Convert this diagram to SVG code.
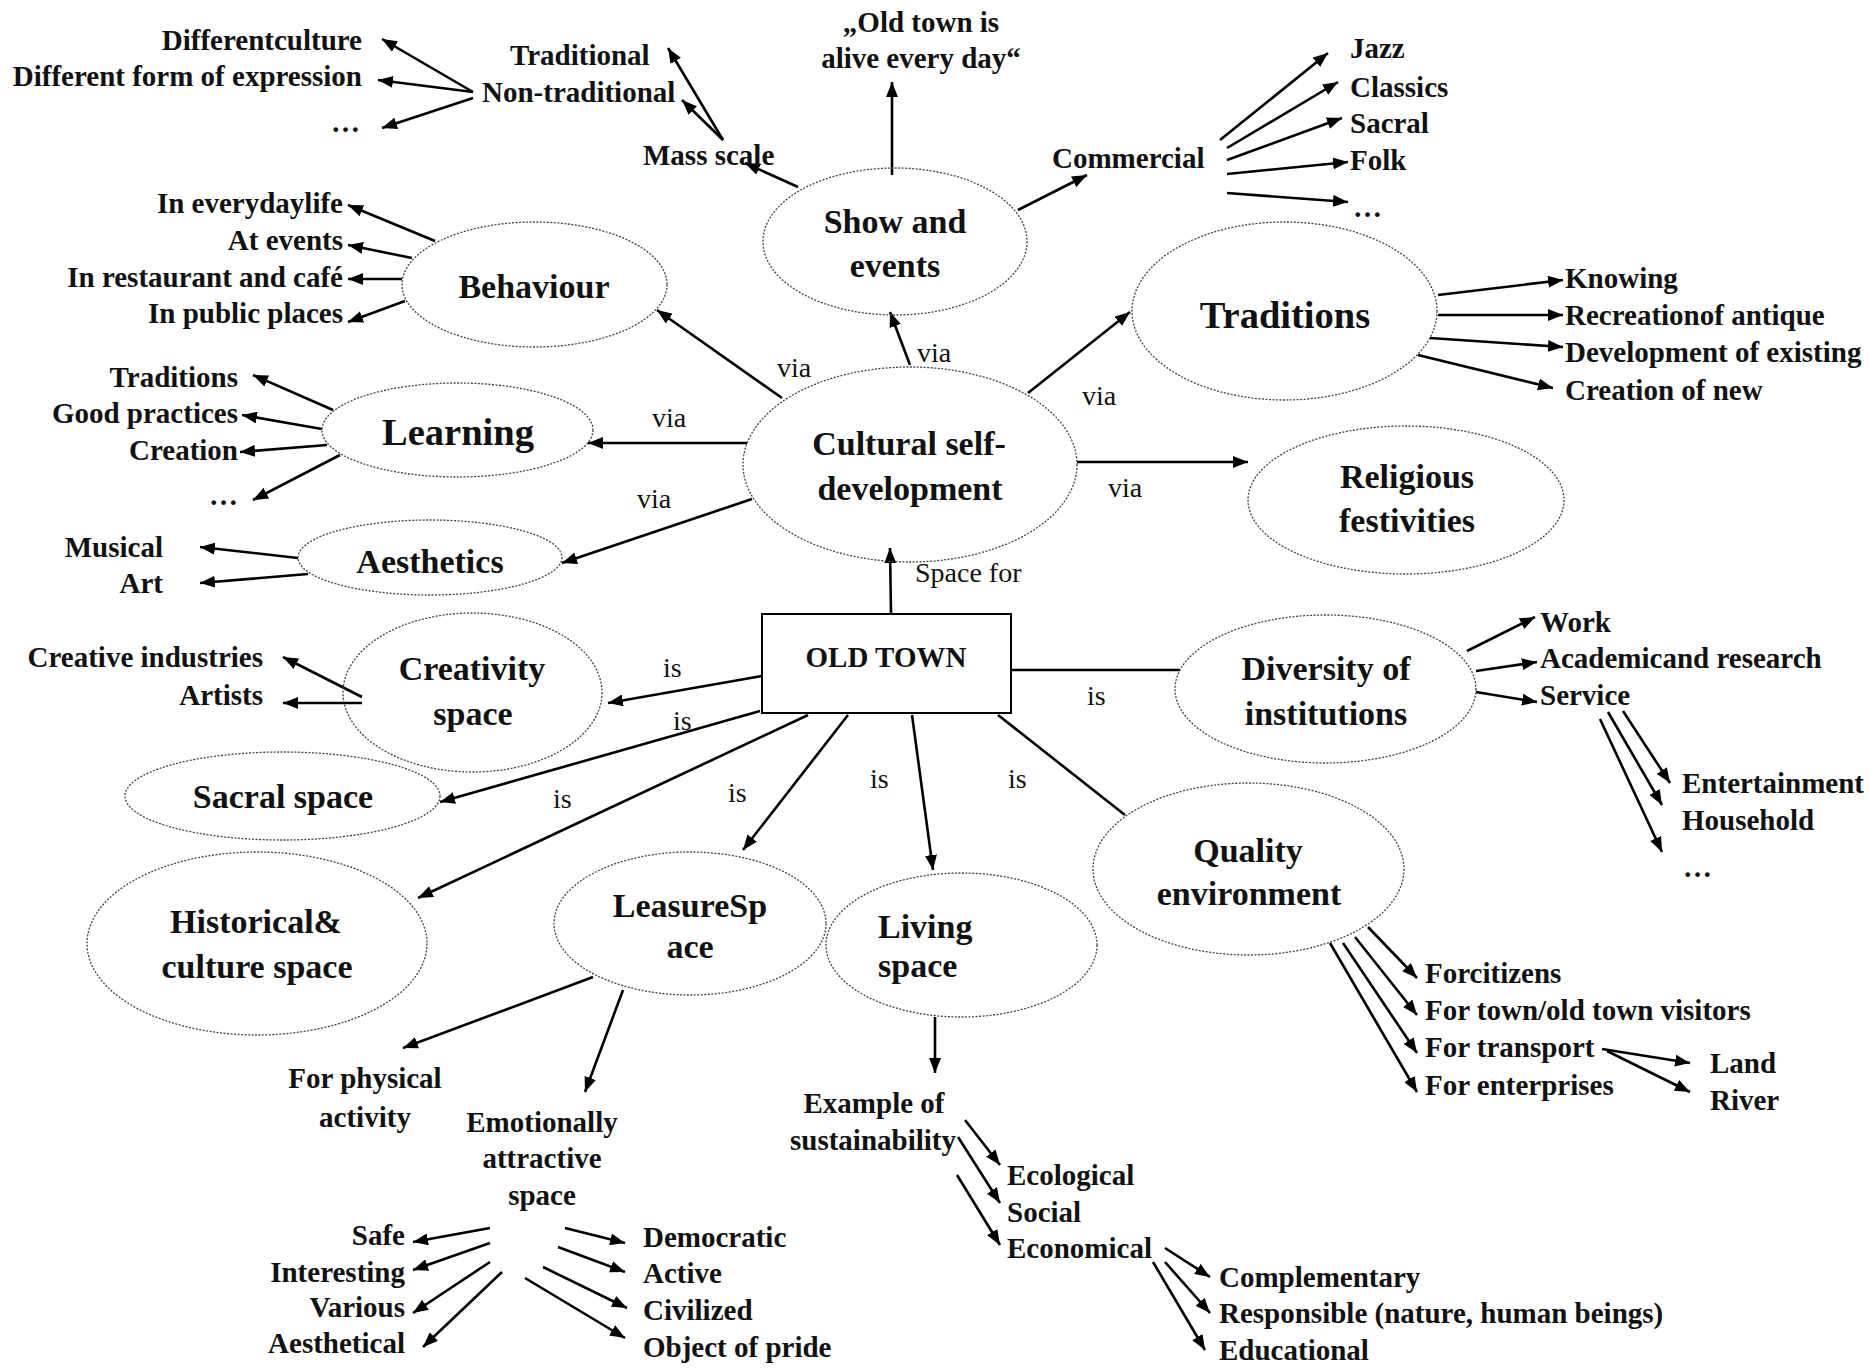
<svg xmlns="http://www.w3.org/2000/svg" width="1870" height="1369" viewBox="0 0 1870 1369">
<style>
text{font-family:"Liberation Serif","Times New Roman",serif;fill:#111}
.t{font-weight:bold;font-size:29px}
.b{font-weight:bold;font-size:34px;text-anchor:middle}
.xb{font-weight:bold;font-size:38.5px;text-anchor:middle}
.l{font-size:28px}
.m{text-anchor:middle}
.r{text-anchor:end}
.e{fill:none;stroke:#444;stroke-width:1.3;stroke-dasharray:2 1.5}
#connectors line{stroke:#000;stroke-width:2.6;fill:none}
#connectors line.a{marker-end:url(#ah)}
</style>
<defs>
<marker id="ah" markerUnits="userSpaceOnUse" markerWidth="16" markerHeight="12" refX="15" refY="6" orient="auto">
<path d="M0,0 L15,6 L0,12 z" fill="#000"/>
</marker>
</defs>
<rect width="1870" height="1369" fill="#fff"/>

<g id="connectors">
<line class="a" x1="798" y1="187" x2="745" y2="163"/>
<line class="a" x1="723" y1="140" x2="668" y2="48"/>
<line class="a" x1="723" y1="140" x2="682" y2="100"/>
<line class="a" x1="473" y1="92" x2="382" y2="39"/>
<line class="a" x1="473" y1="92" x2="378" y2="80"/>
<line class="a" x1="473" y1="98" x2="382" y2="128"/>
<line class="a" x1="892" y1="175" x2="892" y2="82"/>
<line class="a" x1="1018" y1="210" x2="1087" y2="175"/>
<line class="a" x1="1220" y1="140" x2="1328" y2="53"/>
<line class="a" x1="1227" y1="148" x2="1338" y2="82"/>
<line class="a" x1="1227" y1="160" x2="1342" y2="118"/>
<line class="a" x1="1227" y1="174" x2="1348" y2="162"/>
<line class="a" x1="1227" y1="193" x2="1348" y2="202"/>
<line class="a" x1="782" y1="398" x2="657" y2="310"/>
<line class="a" x1="910" y1="365" x2="890" y2="312"/>
<line class="a" x1="1028" y1="393" x2="1130" y2="312"/>
<line class="a" x1="747" y1="443" x2="588" y2="443"/>
<line class="a" x1="752" y1="499" x2="562" y2="563"/>
<line class="a" x1="1077" y1="462" x2="1248" y2="462"/>
<line class="a" x1="891" y1="614" x2="890" y2="548"/>
<line class="a" x1="435" y1="241" x2="348" y2="205"/>
<line class="a" x1="412" y1="258" x2="348" y2="245"/>
<line class="a" x1="402" y1="279" x2="348" y2="279"/>
<line class="a" x1="405" y1="301" x2="348" y2="322"/>
<line class="a" x1="333" y1="410" x2="253" y2="375"/>
<line class="a" x1="322" y1="429" x2="242" y2="415"/>
<line class="a" x1="327" y1="445" x2="240" y2="452"/>
<line class="a" x1="340" y1="455" x2="253" y2="500"/>
<line class="a" x1="298" y1="558" x2="200" y2="547"/>
<line class="a" x1="308" y1="574" x2="200" y2="583"/>
<line class="a" x1="1438" y1="295" x2="1563" y2="280"/>
<line class="a" x1="1438" y1="315" x2="1563" y2="315"/>
<line class="a" x1="1430" y1="338" x2="1563" y2="347"/>
<line class="a" x1="1418" y1="355" x2="1553" y2="388"/>
<line class="a" x1="762" y1="676" x2="608" y2="703"/>
<line class="a" x1="362" y1="697" x2="283" y2="657"/>
<line class="a" x1="362" y1="703" x2="283" y2="703"/>
<line class="a" x1="760" y1="711" x2="440" y2="802"/>
<line class="a" x1="808" y1="715" x2="418" y2="898"/>
<line class="a" x1="848" y1="715" x2="743" y2="850"/>
<line class="a" x1="912" y1="715" x2="933" y2="870"/>
<line x1="998" y1="715" x2="1125" y2="815"/>
<line x1="1011" y1="670" x2="1180" y2="670"/>
<line class="a" x1="1467" y1="651" x2="1535" y2="617"/>
<line class="a" x1="1476" y1="671" x2="1537" y2="662"/>
<line class="a" x1="1476" y1="692" x2="1537" y2="702"/>
<line class="a" x1="1623" y1="711" x2="1670" y2="783"/>
<line class="a" x1="1608" y1="712" x2="1662" y2="805"/>
<line class="a" x1="1600" y1="719" x2="1662" y2="852"/>
<line class="a" x1="1368" y1="927" x2="1417" y2="978"/>
<line class="a" x1="1355" y1="937" x2="1417" y2="1015"/>
<line class="a" x1="1343" y1="943" x2="1417" y2="1053"/>
<line class="a" x1="1330" y1="943" x2="1417" y2="1092"/>
<line class="a" x1="1602" y1="1049" x2="1690" y2="1063"/>
<line class="a" x1="1607" y1="1051" x2="1690" y2="1092"/>
<line class="a" x1="593" y1="977" x2="403" y2="1048"/>
<line class="a" x1="623" y1="990" x2="585" y2="1092"/>
<line class="a" x1="935" y1="1017" x2="935" y2="1073"/>
<line class="a" x1="965" y1="1120" x2="1000" y2="1165"/>
<line class="a" x1="958" y1="1137" x2="1000" y2="1203"/>
<line class="a" x1="957" y1="1175" x2="1000" y2="1245"/>
<line class="a" x1="1165" y1="1248" x2="1210" y2="1277"/>
<line class="a" x1="1165" y1="1262" x2="1210" y2="1313"/>
<line class="a" x1="1153" y1="1262" x2="1205" y2="1350"/>
<line class="a" x1="490" y1="1228" x2="413" y2="1242"/>
<line class="a" x1="490" y1="1243" x2="413" y2="1270"/>
<line class="a" x1="490" y1="1262" x2="413" y2="1313"/>
<line class="a" x1="502" y1="1272" x2="423" y2="1347"/>
<line class="a" x1="565" y1="1228" x2="625" y2="1243"/>
<line class="a" x1="558" y1="1247" x2="625" y2="1272"/>
<line class="a" x1="543" y1="1267" x2="627" y2="1308"/>
<line class="a" x1="525" y1="1278" x2="625" y2="1338"/>
<text class="l" x="777" y="377">via</text>
<text class="l" x="917" y="362">via</text>
<text class="l" x="652" y="427">via</text>
<text class="l" x="1082" y="405">via</text>
<text class="l" x="637" y="508">via</text>
<text class="l" x="1108" y="497">via</text>
<text class="l" x="915" y="582">Space for</text>
<text class="l" x="663" y="677">is</text>
<text class="l" x="673" y="730">is</text>
<text class="l" x="553" y="808">is</text>
<text class="l" x="728" y="802">is</text>
<text class="l" x="870" y="788">is</text>
<text class="l" x="1008" y="788">is</text>
<text class="l" x="1087" y="705">is</text>
</g>

<g id="old-town"><rect x="762" y="614" width="249" height="99" fill="#fff" stroke="#000" stroke-width="2"/><text class="t m" x="886" y="667">OLD TOWN</text></g>
<g id="cultural"><ellipse class="e" cx="910" cy="464.5" rx="167" ry="97.5"/><text class="b" x="909" y="455">Cultural self-</text><text class="b" x="910" y="500">development</text></g>
<g id="show"><ellipse class="e" cx="895" cy="241.5" rx="132" ry="73.5"/><text class="b" x="895" y="233">Show and</text><text class="b" x="895" y="277">events</text></g>
<g id="behaviour"><ellipse class="e" cx="534.5" cy="284.5" rx="132.5" ry="62.5"/><text class="b" x="534" y="298">Behaviour</text></g>
<g id="learning"><ellipse class="e" cx="457.5" cy="430" rx="135.5" ry="47"/><text class="xb" x="458" y="445">Learning</text></g>
<g id="traditions"><ellipse class="e" cx="1284.5" cy="311" rx="152.5" ry="89"/><text class="xb" x="1285" y="328">Traditions</text></g>
<g id="religious"><ellipse class="e" cx="1406" cy="500" rx="158" ry="74"/><text class="b" x="1407" y="488">Religious</text><text class="b" x="1407" y="532">festivities</text></g>
<g id="aesthetics"><ellipse class="e" cx="430" cy="557.5" rx="132" ry="37.5"/><text class="b" x="430" y="573">Aesthetics</text></g>
<g id="creativity"><ellipse class="e" cx="472.5" cy="692.5" rx="129.5" ry="79.5"/><text class="b" x="472" y="680">Creativity</text><text class="b" x="473" y="725">space</text></g>
<g id="sacral"><ellipse class="e" cx="282.5" cy="796" rx="157.5" ry="44"/><text class="b" x="283" y="808">Sacral space</text></g>
<g id="historical"><ellipse class="e" cx="257" cy="943.5" rx="170" ry="91.5"/><text class="b" x="256" y="933">Historical&amp;</text><text class="b" x="257" y="978">culture space</text></g>
<g id="leasure"><ellipse class="e" cx="690" cy="923.5" rx="136" ry="71.5"/><text class="b" x="690" y="917">LeasureSp</text><text class="b" x="690" y="958">ace</text></g>
<g id="living"><ellipse class="e" cx="961.5" cy="945" rx="135.5" ry="72"/><text class="b" x="878" y="938" style="text-anchor:start">Living</text><text class="b" x="878" y="977" style="text-anchor:start">space</text></g>
<g id="quality"><ellipse class="e" cx="1248.5" cy="869" rx="155.5" ry="86"/><text class="b" x="1248" y="862">Quality</text><text class="b" x="1249" y="905">environment</text></g>
<g id="diversity"><ellipse class="e" cx="1325.5" cy="689" rx="150.5" ry="74"/><text class="b" x="1326" y="680">Diversity of</text><text class="b" x="1326" y="725">institutions</text></g>

<g id="expression-list"><text class="t r" x="362" y="50">Differentculture</text><text class="t r" x="362" y="86">Different form of expression</text><text class="t r" x="360" y="132">…</text></g>
<g id="mass-scale"><text class="t" x="510" y="65">Traditional</text><text class="t" x="482" y="102">Non-traditional</text><text class="t" x="643" y="165">Mass scale</text></g>
<g id="old-town-alive"><text class="t m" x="921" y="32">„Old town is</text><text class="t m" x="921" y="68">alive every day“</text></g>
<g id="commercial"><text class="t" x="1052" y="168">Commercial</text><text class="t" x="1350" y="58">Jazz</text><text class="t" x="1350" y="97">Classics</text><text class="t" x="1350" y="133">Sacral</text><text class="t" x="1350" y="170">Folk</text><text class="t" x="1353" y="217">…</text></g>
<g id="traditions-list"><text class="t" x="1565" y="288">Knowing</text><text class="t" x="1565" y="325">Recreationof antique</text><text class="t" x="1565" y="362">Development of existing</text><text class="t" x="1565" y="400">Creation of new</text></g>
<g id="behaviour-list"><text class="t r" x="343" y="213">In everydaylife</text><text class="t r" x="343" y="250">At events</text><text class="t r" x="343" y="287">In restaurant and café</text><text class="t r" x="343" y="323">In public places</text></g>
<g id="learning-list"><text class="t r" x="238" y="387">Traditions</text><text class="t r" x="238" y="423">Good practices</text><text class="t r" x="238" y="460">Creation</text><text class="t r" x="238" y="505">…</text></g>
<g id="aesthetics-list"><text class="t r" x="163" y="557">Musical</text><text class="t r" x="163" y="593">Art</text></g>
<g id="creativity-list"><text class="t r" x="263" y="667">Creative industries</text><text class="t r" x="263" y="705">Artists</text></g>
<g id="institutions-list"><text class="t" x="1540" y="632">Work</text><text class="t" x="1540" y="668">Academicand research</text><text class="t" x="1540" y="705">Service</text><text class="t" x="1682" y="793">Entertainment</text><text class="t" x="1682" y="830">Household</text><text class="t" x="1683" y="877">…</text></g>
<g id="quality-list"><text class="t" x="1425" y="983">Forcitizens</text><text class="t" x="1425" y="1020">For town/old town visitors</text><text class="t" x="1425" y="1057">For transport</text><text class="t" x="1425" y="1095">For enterprises</text><text class="t" x="1710" y="1073">Land</text><text class="t" x="1710" y="1110">River</text></g>
<g id="physical"><text class="t m" x="365" y="1088">For physical</text><text class="t m" x="365" y="1127">activity</text></g>
<g id="emotional"><text class="t m" x="542" y="1132">Emotionally</text><text class="t m" x="542" y="1168">attractive</text><text class="t m" x="542" y="1205">space</text></g>
<g id="emotional-left"><text class="t r" x="405" y="1245">Safe</text><text class="t r" x="405" y="1282">Interesting</text><text class="t r" x="405" y="1317">Various</text><text class="t r" x="405" y="1353">Aesthetical</text></g>
<g id="emotional-right"><text class="t" x="643" y="1247">Democratic</text><text class="t" x="643" y="1283">Active</text><text class="t" x="643" y="1320">Civilized</text><text class="t" x="643" y="1357">Object of pride</text></g>
<g id="sustainability"><text class="t m" x="874" y="1113">Example of</text><text class="t m" x="873" y="1150">sustainability</text><text class="t" x="1007" y="1185">Ecological</text><text class="t" x="1007" y="1222">Social</text><text class="t" x="1007" y="1258">Economical</text></g>
<g id="economical-list"><text class="t" x="1219" y="1287">Complementary</text><text class="t" x="1219" y="1323">Responsible (nature, human beings)</text><text class="t" x="1219" y="1360">Educational</text></g>
</svg>
